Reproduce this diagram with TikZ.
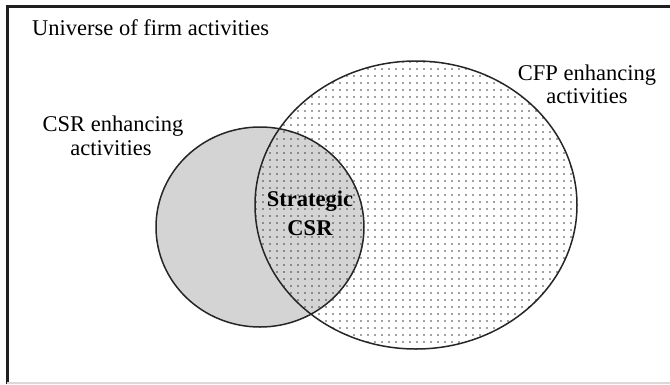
\documentclass[tikz,border=0pt]{standalone}
\usepackage{fontspec}
\setmainfont{Liberation Serif}
\begin{document}
\begin{tikzpicture}[x=1pt,y=-1pt,
  label/.style={inner sep=0pt,anchor=base,font=\fontsize{22.5}{25}\selectfont},
  boldlabel/.style={label,font=\fontsize{22.5}{25}\selectfont\bfseries},
  outline/.style={draw=black!85,line width=1.5pt},
  frameline/.style={draw=black!88,line width=3pt}]
\definecolor{csrgray}{RGB}{212,212,212}
\useasboundingbox (0,0) rectangle (670,384);
% frame of the universe (cut off at right)
\draw[frameline] (7,384) -- (7,6) -- (670,6);
\draw[draw=black!15,line width=1.2pt] (7,383) -- (670,383);
% CSR set: grey disc
\fill[csrgray] (260,227) ellipse [x radius=104, y radius=100];
% CFP set: dotted ellipse
\begin{scope}
  \clip (416,205) ellipse [x radius=161, y radius=144];
  \foreach \i in {0,...,46} {
    \foreach \j in {0,...,42} {
      \fill[black!75] (256+\i*7,62+\j*7) circle [radius=0.95];
    }
  }
\end{scope}
\draw[outline] (416,205) ellipse [x radius=161, y radius=144];
\draw[outline] (260,227) ellipse [x radius=104, y radius=100];
% texts
\node[label,anchor=base west] (univ) at (32,35) {Universe of firm activities};
\node[label] (csra) at (113,131) {CSR enhancing};
\node[label] (csrb) at (111,155) {activities};
\node[label] (cfpa) at (587,80) {CFP enhancing};
\node[label] (cfpb) at (587,103) {activities};
\node[boldlabel] (stra) at (310,206) {Strategic};
\node[boldlabel] (strb) at (310,235) {CSR};
\end{tikzpicture}
\end{document}
